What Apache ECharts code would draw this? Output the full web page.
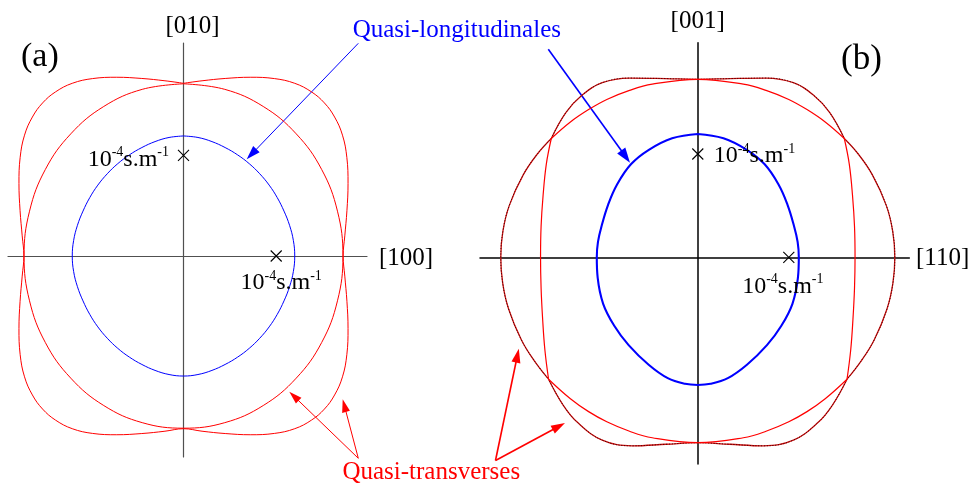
<!DOCTYPE html>
<html>
<head>
<meta charset="utf-8">
<script src="https://cdn.jsdelivr.net/npm/echarts@6.0.0/dist/echarts.min.js"></script>
<style>
  html, body { margin: 0; padding: 0; background: #ffffff; }
  #chart { width: 971px; height: 494px; }
</style>
</head>
<body>
<div id="chart"></div>
<script>
// Slowness curves, unit 1e-4 s/m. Each array is a list of [x, y] points.

// (a) plane (001): first quadrant, from the [010] axis round to the [100] axis
const aLongQ = [[0, 1.192], [0.156, 1.177], [0.307, 1.136], [0.449, 1.077], [0.584, 1.004], [0.709, 0.917], [0.822, 0.817],
  [0.924, 0.704], [1.011, 0.58], [1.084, 0.446], [1.144, 0.305], [1.185, 0.155], [1.20, 0]];
const aTransInnerQ = [[0, 1.71], [0.445, 1.655], [0.86, 1.485], [1.216, 1.213], [1.49, 0.86], [1.661, 0.445], [1.72, 0]];
const aTransOuterQ = [[0, 1.715], [0.2, 1.74], [0.45, 1.763], [0.72, 1.775], [0.98, 1.762], [1.2, 1.715], [1.38, 1.63],
  [1.52, 1.52], [1.63, 1.38], [1.715, 1.2], [1.762, 0.98], [1.775, 0.72], [1.763, 0.45], [1.74, 0.2], [1.722, 0]];

// (b) plane (1-10): right half, upper and lower parts
const bLongUpper = [[0, 1.194], [0.282, 1.152], [0.538, 1.04], [0.735, 0.9], [0.89, 0.70], [0.985, 0.51], [1.055, 0.31],
  [1.097, 0.15], [1.11, 0]];
const bLongLower = [[1.11, 0], [1.10, -0.2], [1.04, -0.45], [0.92, -0.66], [0.76, -0.85], [0.54, -1.04], [0.33, -1.17],
  [0.14, -1.225], [0, -1.236]];

// quasi-transverse mode S (squarish), split at its crossings with mode R
const bSTop = [[0, 1.723], [0.35, 1.73], [0.75, 1.735], [1.05, 1.69], [1.27, 1.57], [1.45, 1.40], [1.61, 1.15]];
const bSSide = [[1.61, 1.15], [1.665, 0.9], [1.70, 0.6], [1.722, 0.3], [1.728, 0], [1.722, -0.3], [1.705, -0.6], [1.68, -0.9], [1.64, -1.18]];
const bSBottom = [[1.64, -1.18], [1.48, -1.43], [1.32, -1.60], [1.05, -1.77], [0.72, -1.825], [0.35, -1.81], [0, -1.795]];
// quasi-transverse mode R (elliptic)
const bRTop = [[0, 1.723], [0.5, 1.676], [0.75, 1.616], [1.0, 1.528], [1.2, 1.43], [1.4, 1.31], [1.61, 1.15]];
const bRSide = [[1.61, 1.15], [1.763, 1.0], [1.917, 0.8], [2.072, 0.5], [2.142, 0.25], [2.165, 0], [2.144, -0.25],
  [2.079, -0.5], [1.938, -0.8], [1.798, -1.0], [1.64, -1.18]];
const bRBottom = [[1.64, -1.18], [1.4, -1.369], [1.2, -1.494], [1.0, -1.592], [0.75, -1.684], [0.5, -1.747], [0, -1.795]];

// reference marks at 1e-4 s/m on each axis
const unitMarks = [[1, 0], [0, 1]];

// axis names
const aAxisNames = ['[100]', '[010]'];
const bAxisNames = ['[110]', '[001]'];

// ---------- helpers ----------
const FONT = "'Liberation Serif', 'Times New Roman', serif";
const rev = a => a.slice().reverse();
const negX = a => a.map(p => [-p[0], p[1]]);
function join(...parts) {
  const out = [];
  parts.forEach(part => part.forEach(p => {
    const last = out[out.length - 1];
    if (!last || last[0] !== p[0] || last[1] !== p[1]) out.push([p[0], p[1]]);
  }));
  return out;
}
function loopQuadrant(q) {
  return join(q, rev(q).map(p => [p[0], -p[1]]), q.map(p => [-p[0], -p[1]]), rev(q).map(p => [-p[0], p[1]]));
}
function curve(data, gi, color, width, z, dash) {
  return {
    type: 'line', xAxisIndex: gi, yAxisIndex: gi, data: data, smooth: 0.4,
    symbol: 'none', showSymbol: false, silent: true, z: z || 2,
    lineStyle: { color: color, width: width, type: dash || 'solid' }
  };
}

// layout of the two panels: pixel box, pixel origin, pixels per unit
const panels = [
  { box: { left: 8, top: 43, right: 367, bottom: 457 }, origin: [183.5, 256], scale: [92.7, 100.7], axisColor: '#505050', axisWidth: 1.2 },
  { box: { left: 480, top: 42.7, right: 909.3, bottom: 464 }, origin: [697.8, 257.3], scale: [91, 103.3], axisColor: '#000000', axisWidth: 1.5 }
];

const grids = [], xAxes = [], yAxes = [];
panels.forEach((p, i) => {
  grids.push({ left: p.box.left, top: p.box.top, width: p.box.right - p.box.left, height: p.box.bottom - p.box.top, containLabel: false });
  const axisCommon = {
    type: 'value', gridIndex: i,
    axisLine: { show: true, onZero: true, lineStyle: { color: p.axisColor, width: p.axisWidth } },
    axisTick: { show: false }, axisLabel: { show: false }, splitLine: { show: false }
  };
  xAxes.push(Object.assign({}, axisCommon, {
    min: (p.box.left - p.origin[0]) / p.scale[0], max: (p.box.right - p.origin[0]) / p.scale[0]
  }));
  yAxes.push(Object.assign({}, axisCommon, {
    min: (p.origin[1] - p.box.bottom) / p.scale[1], max: (p.origin[1] - p.box.top) / p.scale[1]
  }));
});

const RED = '#ff0000', DARK_BASE = '#d01010', DARK_DOT = '#3a0000', BLUE = '#0000ff';

const richUnit = {
  n: { fontFamily: FONT, fontSize: 24, color: '#000000', lineHeight: 26, verticalAlign: 'bottom' },
  s: { fontFamily: FONT, fontSize: 14, color: '#000000', lineHeight: 14, verticalAlign: 'top' }
};
function marks(gi, labels) {
  return {
    type: 'scatter', xAxisIndex: gi, yAxisIndex: gi, silent: true, z: 5,
    symbol: 'path://M0,0L10,10M10,0L0,10', symbolSize: 11,
    itemStyle: { color: 'none', borderColor: '#000000', borderWidth: 1.1, opacity: 1 },
    data: unitMarks.map((v, k) => ({ value: v, label: labels[k] })),
    label: { show: true, color: '#000000', formatter: '{n|10}{s|-4}{n|s.m}{s|-1}', rich: richUnit }
  };
}

// (b) branches: the outer envelope is drawn dark, the inner one bright red
const bOuter = [join(negX(rev(bSTop)), bSTop), join(bSBottom, negX(rev(bSBottom))), bRSide, negX(bRSide)];
const bInner = [bSSide, negX(bSSide), join(negX(rev(bRTop)), bRTop), join(bRBottom, negX(rev(bRBottom)))];

const series = [
  curve(loopQuadrant(aTransOuterQ), 0, RED, 1),
  curve(loopQuadrant(aTransInnerQ), 0, RED, 1),
  curve(loopQuadrant(aLongQ), 0, BLUE, 1, 3),
  marks(0, [
    { position: 'bottom', distance: 5, offset: [5, 0] },
    { position: 'left', distance: 6.5, offset: [0, 3] }
  ])
].concat(
  bOuter.map(d => curve(d, 1, DARK_BASE, 1.3)),
  bOuter.map(d => curve(d, 1, DARK_DOT, 0.9, 2, [1.2, 1.6])),
  bInner.map(d => curve(d, 1, RED, 1.2)),
  [
    curve(join(bLongUpper, bLongLower, negX(rev(bLongLower)), negX(rev(bLongUpper))), 1, BLUE, 2.1, 3),
    marks(1, [
      { position: 'bottom', distance: 7, offset: [-6, 0] },
      { position: 'right', distance: 8, offset: [0, 1] }
    ])
  ]
);

// ---------- annotations ----------
function arrow(x1, y1, x2, y2, color, width, headLen, headW) {
  const dx = x2 - x1, dy = y2 - y1, L = Math.hypot(dx, dy), ux = dx / L, uy = dy / L;
  const bx = x2 - ux * headLen, by = y2 - uy * headLen, px = -uy, py = ux;
  return [
    { type: 'line', silent: true, shape: { x1: x1, y1: y1, x2: bx + ux, y2: by + uy }, style: { stroke: color, lineWidth: width } },
    { type: 'polygon', silent: true, shape: { points: [[x2, y2], [bx + px * headW / 2, by + py * headW / 2], [bx - px * headW / 2, by - py * headW / 2]] }, style: { fill: color } }
  ];
}
function text(str, x, y, size, color, align) {
  return { type: 'text', silent: true, x: x, y: y, style: { text: str, fontFamily: FONT, fontSize: size, fill: color, align: align || 'center', verticalAlign: 'middle' } };
}

const graphics = [].concat(
  text('(a)', 21, 57, 34, '#000', 'left'),
  text('(b)', 841, 60, 35, '#000', 'left'),
  text(aAxisNames[1], 192.5, 26.5, 25, '#000', 'center'),
  text(aAxisNames[0], 379, 258, 25, '#000', 'left'),
  text(bAxisNames[1], 697.7, 21, 25, '#000', 'center'),
  text(bAxisNames[0], 916, 258, 25, '#000', 'left'),
  text('Quasi-longitudinales', 456.8, 30, 25, BLUE, 'center'),
  text('Quasi-transverses', 431.3, 472, 25, RED, 'center'),
  arrow(358.3, 43.3, 246.7, 159.3, BLUE, 1, 14, 9),
  arrow(548.3, 49.3, 630, 162.7, BLUE, 1.6, 15, 10),
  arrow(358.3, 458.3, 289.3, 391.7, RED, 1, 13, 8),
  arrow(358.3, 458.3, 342.7, 399.3, RED, 1, 13, 8),
  arrow(495.5, 460.5, 518.8, 348.8, RED, 1.6, 14, 9),
  arrow(495.5, 460.5, 565, 423, RED, 1.6, 14, 9)
);

const chart = echarts.init(document.getElementById('chart'), null, { renderer: 'canvas' });
chart.setOption({
  backgroundColor: '#ffffff',
  animation: false,
  grid: grids,
  xAxis: xAxes,
  yAxis: yAxes,
  series: series,
  graphic: graphics
});
</script>
</body>
</html>
